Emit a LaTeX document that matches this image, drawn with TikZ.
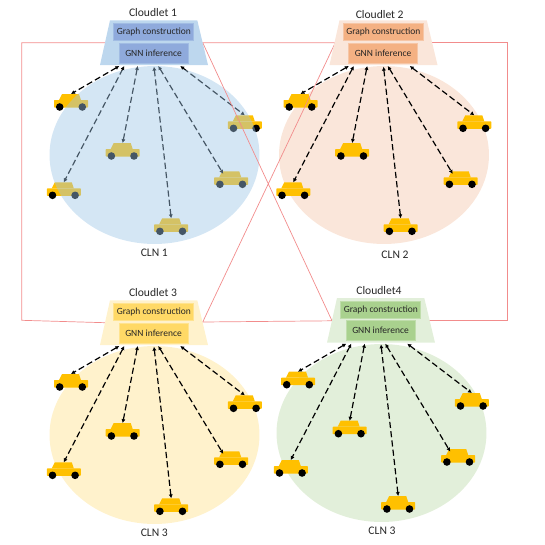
\documentclass[tikz,border=0pt]{standalone}
\usepackage{fontspec}
\setmainfont{Carlito}
\usetikzlibrary{arrows.meta,shapes.geometric}
\definecolor{carbody}{HTML}{FFC000}
\definecolor{veilblue}{RGB}{158,198,230}
\definecolor{headblue}{HTML}{BDD7EE}
\definecolor{boxblue}{HTML}{8FAADC}
\definecolor{softorange}{HTML}{FAE6DA}
\definecolor{boxorange}{HTML}{F4B183}
\definecolor{softyellow}{HTML}{FFF2CC}
\definecolor{boxyellow}{HTML}{FFD966}
\definecolor{softgreen}{HTML}{E2EFDA}
\definecolor{boxgreen}{HTML}{A9D18E}
\definecolor{linkred}{HTML}{F28C8C}
\definecolor{inktext}{HTML}{262626}
\tikzset{
  zone/.style={ellipse, draw=none, inner sep=0pt, minimum width=4.2cm, minimum height=3.56cm},
  taskwide/.style={rectangle, inner sep=0pt, minimum width=1.6cm, minimum height=0.34cm, font=\fontsize{5.4}{6}\selectfont, text=inktext},
  tasknarrow/.style={rectangle, inner sep=0pt, minimum width=1.38cm, minimum height=0.4cm, font=\fontsize{5.4}{6}\selectfont, text=inktext},
  caption/.style={inner sep=0pt, font=\fontsize{6.6}{8}\selectfont, text=inktext},
  duplex/.style={{Latex[length=2.2pt,width=2.4pt]}-{Latex[length=2.2pt,width=2.4pt]}, black, line width=0.68pt, dash pattern=on 3.5pt off 1.8pt},
  link/.style={linkred, line width=0.4pt},
  car/.pic={
    \fill[carbody, rounded corners=0.4pt] (-17,-3) rectangle (17,4.5);
    \fill[carbody] (-12,-3) -- (-9,-9) -- (8,-9) -- (10,-3) -- cycle;
    \fill[black] (-11.3,4) circle (3.8);
    \fill[black] (11.3,4) circle (3.8);
    \coordinate (-roof) at (0,-9);
    \coordinate (-side) at (-8,-6.5);
  }
}
% cars of one cell with their dashed links
\newcommand{\cellcars}[3]{
  \begin{scope}[shift={(#2,#3)}]
    \foreach \n/\px/\py/\sx/\sy/\tip in {a/71/103/119.3/66/roof, b/63.8/191.3/124.3/66/roof, c/122.7/152/137.7/66/roof, d/171.2/227.3/154/66.7/roof, e/231.2/180.3/158.3/66/side, f/244.8/124.3/180.3/66/roof}{
      \pic (#1\n) at (\px,\py) {car};
      \coordinate (#1port\n) at (\sx,\sy);
      \draw[duplex] (#1port\n) -- (#1\n-\tip);
    }
  \end{scope}
}
% cloudlet head with its two task boxes
\newcommand{\cellhead}[5]{
  \begin{scope}[shift={(#2,#3)}]
    \fill[#4] (100,65) -- (110,20.3) -- (197.3,20.3) -- (208,65) -- cycle;
    \node[taskwide, fill=#5, draw=#5!60!#4] (#1graph) at (153.8,32.3) {Graph construction};
    \node[tasknarrow, fill=#5, draw=#5!60!#4] (#1gnn) at (153.5,53) {GNN inference};
  \end{scope}
}

\begin{document}
\begin{tikzpicture}[x=0.02cm, y=-0.02cm]
  \useasboundingbox (0,0) rectangle (545,545);
  % cell 1 has its zone laid over the cars
  \cellcars{one}{0}{0}
  \node[zone, fill=veilblue, fill opacity=0.44] (zone1) at (154.5,155) {};
  \node[zone, fill=softorange] (zone2) at (384,155) {};
  \cellcars{two}{229.5}{0}
  \node[zone, fill=softyellow] (zone3) at (154.5,435) {};
  \cellcars{three}{0}{280}
  \node[zone, fill=softgreen] (zone4) at (381.5,433) {};
  \cellcars{four}{227}{277.7}

  \coordinate (nw) at (21.7,42.7);
  \coordinate (ne) at (507.7,42.7);
  \coordinate (sw) at (21.7,320.3);
  \coordinate (se) at (507.7,320.3);
  \coordinate (port1e) at (202.7,42.7);
  \coordinate (port2w) at (335.3,42.7);
  \coordinate (port2e) at (432,42.7);
  \coordinate (port3w) at (105,322.7);
  \coordinate (port3e) at (202.7,322);
  \coordinate (port4w) at (332,320.8);
  \coordinate (port4e) at (428.7,320.3);
  \draw[link] (port3w) -- (sw) -- (nw) -- (port1e) -- (port2w) -- (port3e) -- (port4w) -- (port1e);
  \draw[link] (port2e) -- (ne) -- (se) -- (port4e);

  \cellhead{one}{0}{0}{headblue}{boxblue}
  \cellhead{two}{229.5}{0}{softorange}{boxorange}
  \cellhead{three}{0}{280}{softyellow}{boxyellow}
  \cellhead{four}{227}{277.7}{softgreen}{boxgreen}

  \node[caption] (title1) at (153,12.7) {Cloudlet 1};
  \node[caption] (title2) at (379.7,14.7) {Cloudlet 2};
  \node[caption] (title3) at (153,292.7) {Cloudlet 3};
  \node[caption] (title4) at (379,290.3) {Cloudlet4};
  \node[caption] (name1) at (154.3,253) {CLN 1};
  \node[caption] (name2) at (395,255) {CLN 2};
  \node[caption] (name3) at (154.3,532.7) {CLN 3};
  \node[caption] (name4) at (382,530.3) {CLN 3};
\end{tikzpicture}
\end{document}
